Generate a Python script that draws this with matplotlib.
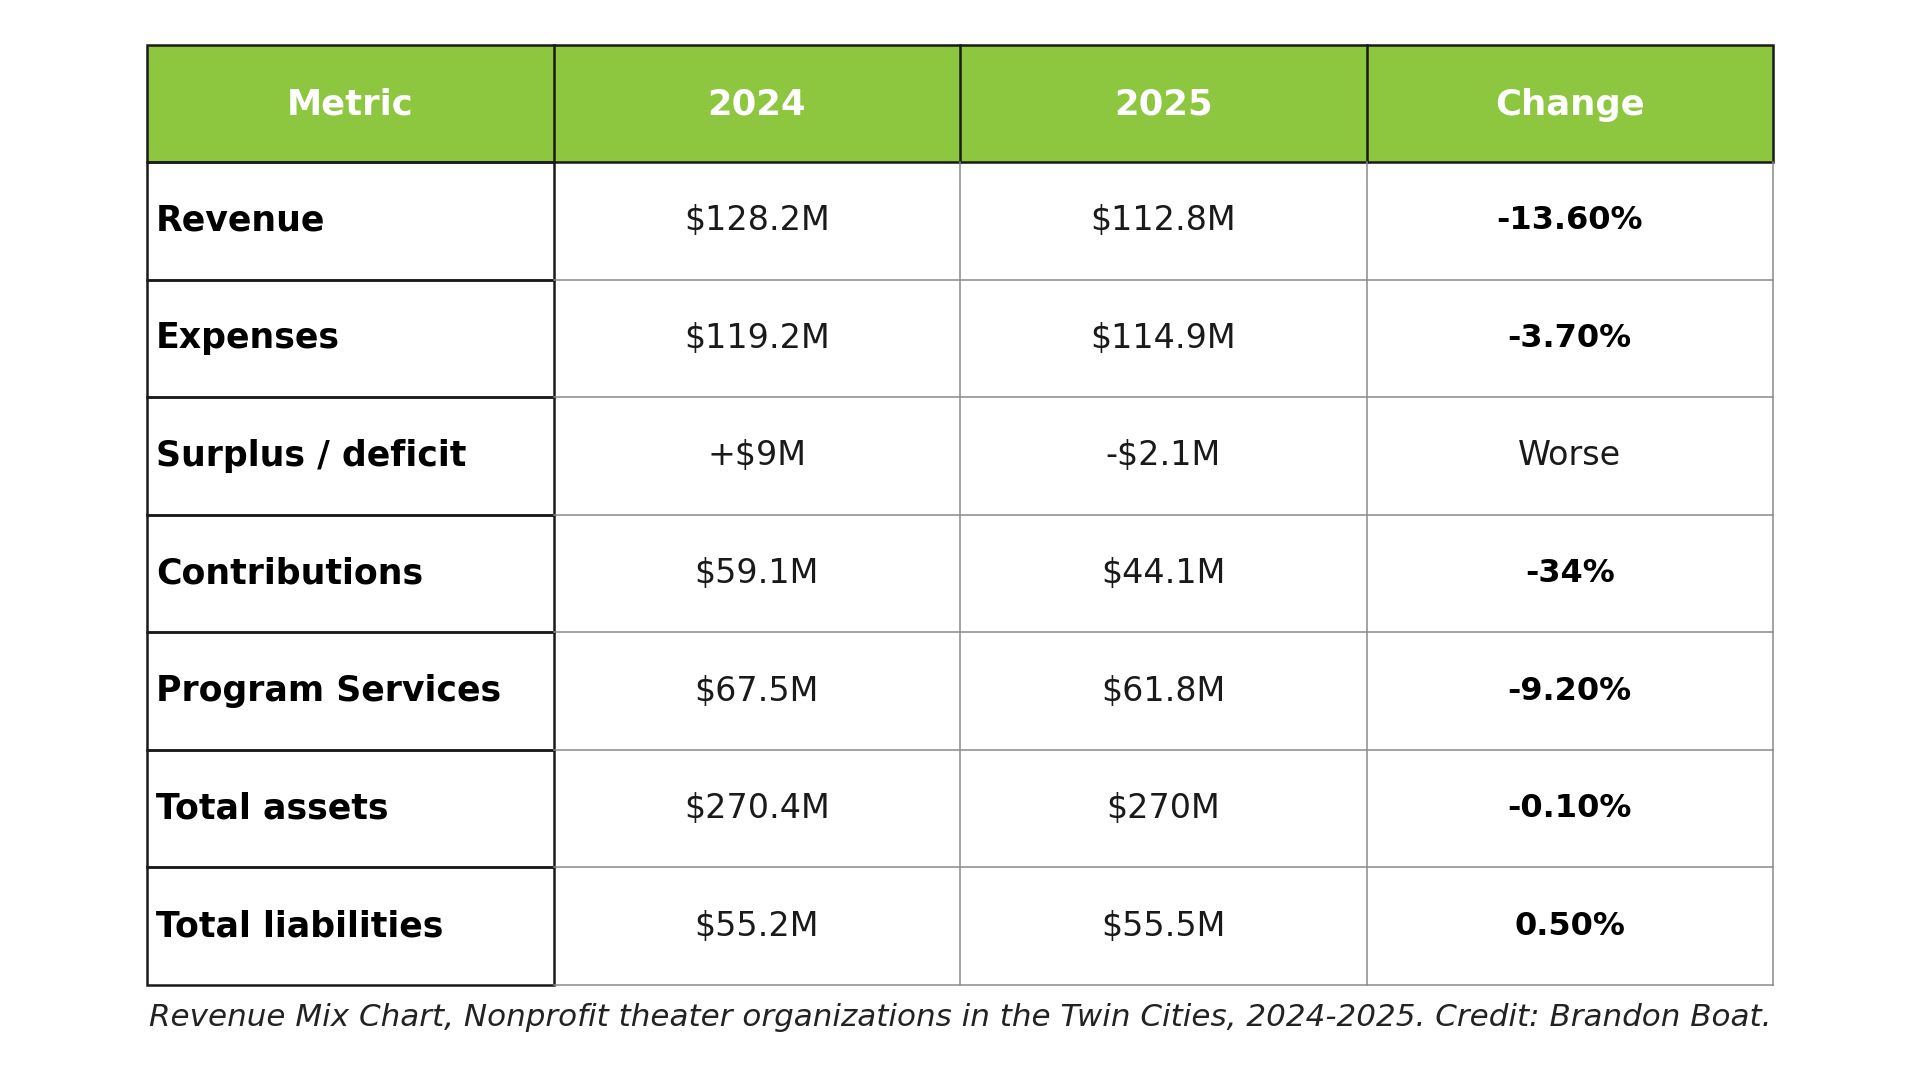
import matplotlib.pyplot as plt
from matplotlib.patches import Rectangle

# Данные таблицы
header = ['Metric', '2024', '2025', 'Change']
metrics = ['Revenue', 'Expenses', 'Surplus / deficit', 'Contributions',
           'Program Services', 'Total assets', 'Total liabilities']
values_2024 = ['$128.2M', '$119.2M', '+$9M', '$59.1M', '$67.5M', '$270.4M', '$55.2M']
values_2025 = ['$112.8M', '$114.9M', '-$2.1M', '$44.1M', '$61.8M', '$270M', '$55.5M']
changes = ['-13.60%', '-3.70%', 'Worse', '-34%', '-9.20%', '-0.10%', '0.50%']
caption = ('Revenue Mix Chart, Nonprofit theater organizations in the Twin Cities, '
           '2024-2025. Credit: Brandon Boat.')

green = '#8DC63F'
font = ['DejaVu Sans']

fig = plt.figure(figsize=(19.2, 10.8), dpi=100)
ax = fig.add_axes([0, 0, 1, 1])
ax.set_xlim(0, 1920)
ax.set_ylim(1080, 0)
ax.axis('off')

left, right = 147, 1773
top, head_h = 45, 117
row_h = (985 - top - head_h) / len(metrics)
col_w = (right - left) / len(header)

# Шапка
ax.add_patch(Rectangle((left, top), right - left, head_h, facecolor=green,
                       edgecolor='none'))
for j, h in enumerate(header):
    ax.text(left + col_w * (j + 0.5), top + head_h / 2 + 1, h, ha='center', va='center',
            color='white', fontsize=25.5, fontweight='bold', family=font)
    if j > 0:
        ax.plot([left + col_w * j] * 2, [top, top + head_h], color='#1a1a1a', lw=1.8)
ax.add_patch(Rectangle((left, top), right - left, head_h, facecolor='none',
                       edgecolor='#1a1a1a', lw=1.8))

# Строки
y0 = top + head_h
for i, m in enumerate(metrics):
    yc = y0 + row_h * (i + 0.5)
    ax.text(left + 9, yc, m, ha='left', va='center', fontsize=25,
            fontweight='bold', family=font, color='black')
    ax.text(left + col_w * 1.5, yc, values_2024[i], ha='center', va='center',
            fontsize=24, family=font, color='#1a1a1a')
    ax.text(left + col_w * 2.5, yc, values_2025[i], ha='center', va='center',
            fontsize=24, family=font, color='#1a1a1a')
    if changes[i] == 'Worse':
        ax.text(left + col_w * 3.5, yc, changes[i], ha='center', va='center',
                fontsize=24, family=font, color='#1a1a1a')
    else:
        ax.text(left + col_w * 3.5, yc, changes[i], ha='center', va='center',
                fontsize=23, fontweight='bold', family=font, color='black')
    # серые линии
    yb = y0 + row_h * (i + 1)
    ax.plot([left + col_w, right], [yb, yb], color='#8a8a8a', lw=1.1)

for j in (2, 3):
    ax.plot([left + col_w * j] * 2, [y0, y0 + row_h * len(metrics)],
            color='#8a8a8a', lw=1.1)
ax.plot([right, right], [y0, y0 + row_h * len(metrics)], color='#8a8a8a', lw=1.1)

# первый столбец с тёмными рамками
for i in range(len(metrics)):
    ax.add_patch(Rectangle((left, y0 + row_h * i), col_w, row_h, facecolor='none',
                           edgecolor='#1a1a1a', lw=1.8))

ax.text((left + right) / 2, 1017, caption, ha='center', va='center', fontsize=22.3,
        style='italic', family=font, color='#222222')

fig.savefig('out.png', dpi=100)
